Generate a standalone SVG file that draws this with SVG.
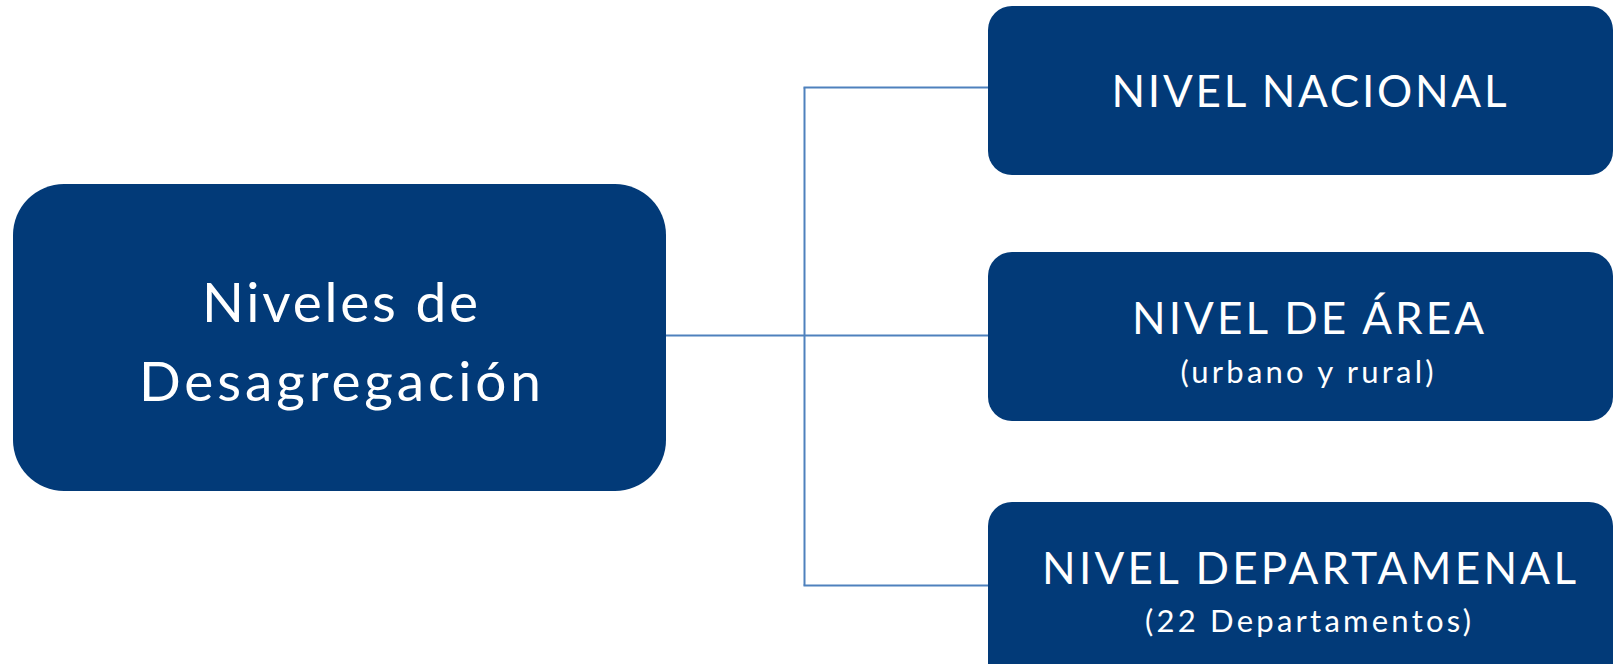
<svg xmlns="http://www.w3.org/2000/svg" width="1613" height="664" viewBox="0 0 1613 664">
<style>
.box{fill:#023A78;}
.conn{stroke:#4F81BD;stroke-width:2;fill:none;}
.t{fill:#FFFFFF;font-family:Lato,"Noto Sans","Liberation Sans",sans-serif;text-anchor:middle;}
.big{font-size:55px;}
.lbl{font-size:44px;}
.sub{font-size:31px;}
</style>
<rect width="1613" height="664" fill="#FFFFFF"/>
<g id="connectors">
<line class="conn" x1="666" y1="335.5" x2="988" y2="335.5"/>
<line class="conn" x1="804.5" y1="87.5" x2="804.5" y2="585.5"/>
<line class="conn" x1="803.5" y1="87.5" x2="988" y2="87.5"/>
<line class="conn" x1="803.5" y1="585.5" x2="988" y2="585.5"/>
</g>
<g id="node-niveles">
<rect class="box" x="13" y="184" width="653" height="307" rx="51" ry="51"/>
<text class="t big" x="340" y="322" textLength="276" lengthAdjust="spacing">Niveles de</text>
<text class="t big" x="340" y="401" textLength="402" lengthAdjust="spacing">Desagregación</text>
</g>
<g id="node-nacional">
<rect class="box" x="988" y="6" width="625" height="169" rx="24" ry="24"/>
<text class="t lbl" x="1309" y="107" textLength="395" lengthAdjust="spacing">NIVEL NACIONAL</text>
</g>
<g id="node-area">
<rect class="box" x="988" y="252" width="625" height="169" rx="24" ry="24"/>
<text class="t lbl" x="1308" y="334" textLength="352" lengthAdjust="spacing">NIVEL DE ÁREA</text>
<text class="t sub" x="1307" y="383" textLength="253" lengthAdjust="spacing">(urbano y rural)</text>
</g>
<g id="node-departamental">
<rect class="box" x="988" y="502" width="625" height="200" rx="24" ry="24"/>
<text class="t lbl" x="1309" y="584" textLength="534" lengthAdjust="spacing">NIVEL DEPARTAMENAL</text>
<text class="t sub" x="1308" y="632" textLength="326" lengthAdjust="spacing">(22 Departamentos)</text>
</g>
</svg>
